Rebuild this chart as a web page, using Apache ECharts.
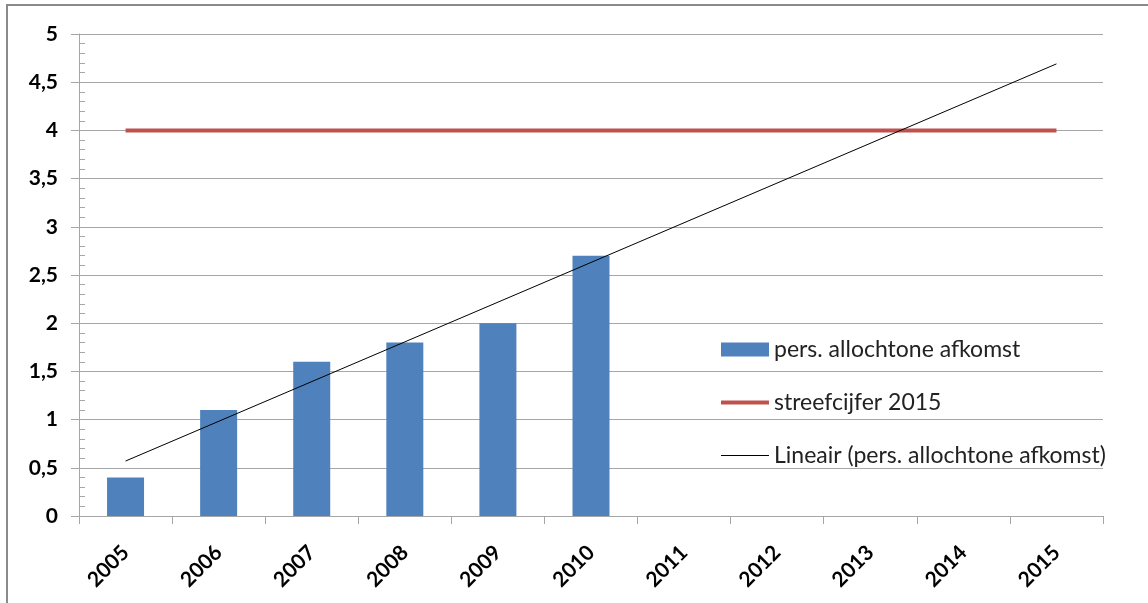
<!DOCTYPE html>
<html>
<head>
<meta charset="utf-8">
<script src="https://cdn.jsdelivr.net/npm/echarts@6/dist/echarts.min.js"></script>
<style>
  html, body { margin: 0; padding: 0; background: #fff; }
  #frame { position: absolute; left: 6px; top: 4px; width: 1200px; height: 700px; border-left: 2px solid #8a8a8a; border-top: 2px solid #8a8a8a; }
  #chart { position: absolute; left: 0; top: 0; width: 1148px; height: 603px; }
</style>
</head>
<body>
<div id="frame"></div>
<div id="chart"></div>
<script>
const categories = ['2005','2006','2007','2008','2009','2010','2011','2012','2013','2014','2015'];
const barValues = [0.4, 1.1, 1.6, 1.8, 2.0, 2.7, null, null, null, null, null];
const targetValues = [4, 4, 4, 4, 4, 4, 4, 4, 4, 4, 4];
const trendValues = [0.57, null, null, null, null, null, null, null, null, null, 4.69];
const yTicks = ['0','0,5','1','1,5','2','2,5','3','3,5','4','4,5','5'];

const chart = echarts.init(document.getElementById('chart'), null, { renderer: 'canvas' });
const FONT = 'Lato, "Open Sans", sans-serif';
chart.setOption({
  animation: false,
  grid: { left: 79, right: 45, top: 34, bottom: 87, containLabel: false },
  legend: {
    orient: 'vertical',
    left: 716, top: 333,
    itemWidth: 48, itemHeight: 14, itemGap: 30,
    textStyle: { fontFamily: FONT, fontSize: 23, color: '#222' },
    data: [
      { name: 'pers. allochtone afkomst', icon: 'rect' },
      { name: 'streefcijfer 2015', icon: 'path://M0,0H48V4H0Z' },
      { name: 'Lineair (pers. allochtone afkomst)', icon: 'path://M0,0H48V1H0Z' }
    ]
  },
  xAxis: {
    type: 'category',
    data: categories,
    boundaryGap: true,
    axisLine: { lineStyle: { color: '#a6a6a6', width: 1 } },
    axisTick: { show: true, length: 8, alignWithLabel: false, lineStyle: { color: '#a6a6a6' } },
    axisLabel: { rotate: 45, fontFamily: FONT, fontSize: 21, fontWeight: 'bold', color: '#000', margin: 33, interval: 0 }
  },
  yAxis: [
    {
      type: 'value', min: 0, max: 5, interval: 0.5,
      axisLine: { show: true, lineStyle: { color: '#a6a6a6' } },
      axisTick: { show: true, length: 8, lineStyle: { color: '#a6a6a6' } },
      splitLine: { show: true, lineStyle: { color: '#a6a6a6', width: 1 } },
      axisLabel: {
        fontFamily: FONT, fontSize: 21, fontWeight: 'bold', color: '#000', margin: 21,
        formatter: function (v) { return yTicks[Math.round(v * 2)]; }
      }
    },
    {
      type: 'value', min: 0, max: 5, interval: 0.1, position: 'left',
      axisLine: { show: false },
      axisTick: { show: true, inside: true, length: 6, lineStyle: { color: '#a6a6a6' } },
      splitLine: { show: false },
      axisLabel: { show: false }
    }
  ],
  series: [
    {
      name: 'pers. allochtone afkomst', type: 'bar', data: barValues,
      barWidth: 37,
      itemStyle: { color: '#4F81BD' }
    },
    {
      name: 'streefcijfer 2015', type: 'line', data: targetValues,
      symbol: 'none',
      lineStyle: { color: '#C0504D', width: 4 },
      itemStyle: { color: '#C0504D' }
    },
    {
      name: 'Lineair (pers. allochtone afkomst)', type: 'line', data: trendValues,
      connectNulls: true, symbol: 'none',
      lineStyle: { color: '#000', width: 1 },
      itemStyle: { color: '#000' }
    }
  ]
});
</script>
</body>
</html>
